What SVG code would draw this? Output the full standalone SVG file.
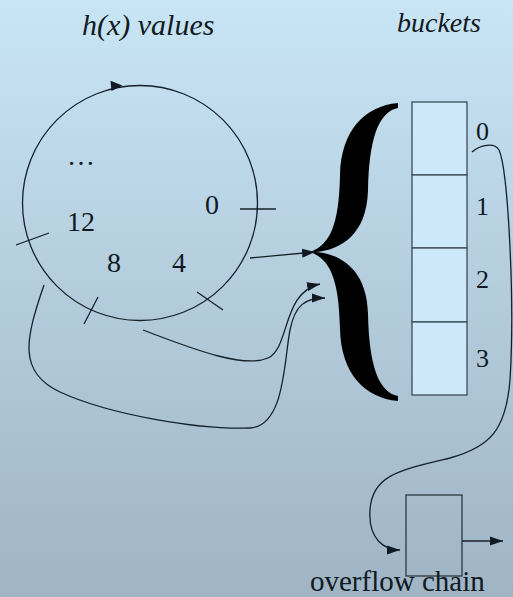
<svg xmlns="http://www.w3.org/2000/svg" width="513" height="597" viewBox="0 0 513 597">
  <defs>
    <linearGradient id="bg" x1="0" y1="0" x2="0" y2="1">
      <stop offset="0" stop-color="#c8e5f6"/>
      <stop offset="1" stop-color="#9fb4c4"/>
    </linearGradient>
    <marker id="arr" markerWidth="14" markerHeight="10" refX="13" refY="5" orient="auto" markerUnits="userSpaceOnUse">
      <path d="M0,0.5 L13,5 L0,9.5 Z" fill="#111a22"/>
    </marker>
  </defs>
  <style>
    .ln { fill: none; stroke: #16202a; stroke-width: 1.3; }
    text { font-family: 'Liberation Serif', 'DejaVu Serif', 'Times New Roman', serif; font-size: 28px; fill: #111a22; }
    .ti { font-style: italic; }
    .bk { fill: #cde9f9; stroke: #3b4c58; stroke-width: 1.3; }
  </style>
  <rect x="0" y="0" width="513" height="597" fill="url(#bg)"/>

  <g id="titles">
    <text class="ti" x="82" y="35" style="font-size:30px">h(x) values</text>
    <text class="ti" x="397" y="32">buckets</text>
  </g>

  <g id="hash-ring">
    <circle cx="140" cy="203" r="117.5" class="ln"/>
    <path d="M122.5,85.6 L110.5,80.8 L111.5,91 Z" fill="#111a22"/>
    <line x1="240" y1="209" x2="276" y2="209" class="ln" stroke-width="1.8"/>
    <line x1="16" y1="245" x2="49" y2="233" class="ln"/>
    <line x1="84" y1="324" x2="98" y2="297" class="ln"/>
    <line x1="197" y1="292" x2="223" y2="310" class="ln"/>
    <text x="67" y="165">…</text>
    <text x="67" y="231">12</text>
    <text x="205" y="214">0</text>
    <text x="107" y="272">8</text>
    <text x="172" y="272">4</text>
  </g>

  <g id="brace">
    <path d="M398,103 C365,106 341,130 340,175 C339,225 330,245 310,252 C330,259 339,279 340,329 C341,374 365,398 398,401 L398,396 C378,392 369,364 368,314 C367,269 340,254 316,252 C340,250 367,235 368,190 C369,140 378,112 398,108 Z" fill="#000"/>
  </g>

  <g id="buckets">
    <rect x="412" y="102" width="55" height="73" class="bk"/>
    <rect x="412" y="175" width="55" height="73" class="bk"/>
    <rect x="412" y="248" width="55" height="74" class="bk"/>
    <rect x="412" y="322" width="55" height="73" class="bk"/>
    <text x="476" y="140" style="font-size:26px">0</text>
    <text x="476" y="215" style="font-size:26px">1</text>
    <text x="476" y="288" style="font-size:26px">2</text>
    <text x="476" y="367" style="font-size:26px">3</text>
  </g>

  <g id="overflow">
    <rect x="406" y="495" width="56" height="81" fill="none" stroke="#2c3a44" stroke-width="1.3"/>
    <text x="310" y="591" style="font-size:29px">overflow chain</text>
  </g>

  <g id="connectors">
    <path d="M250,258 L315,252" class="ln" marker-end="url(#arr)"/>
    <path d="M143,330 C200,352 245,368 268,358 C290,348 282,292 320,284" class="ln" marker-end="url(#arr)"/>
    <path d="M44,285 C25,340 18,372 60,392 C110,415 200,430 250,428 C285,426 284,360 290,330 C295,305 305,298 325,298" class="ln" marker-end="url(#arr)"/>
    <path d="M472,152 C480,145 494,142 499,150 C508,170 515,300 510,380 C506,430 490,447 450,458 C400,470 372,475 370,510 C368,540 385,550 400,550" class="ln" marker-end="url(#arr)"/>
    <path d="M462,541 L503,541" class="ln" marker-end="url(#arr)"/>
  </g>
</svg>
